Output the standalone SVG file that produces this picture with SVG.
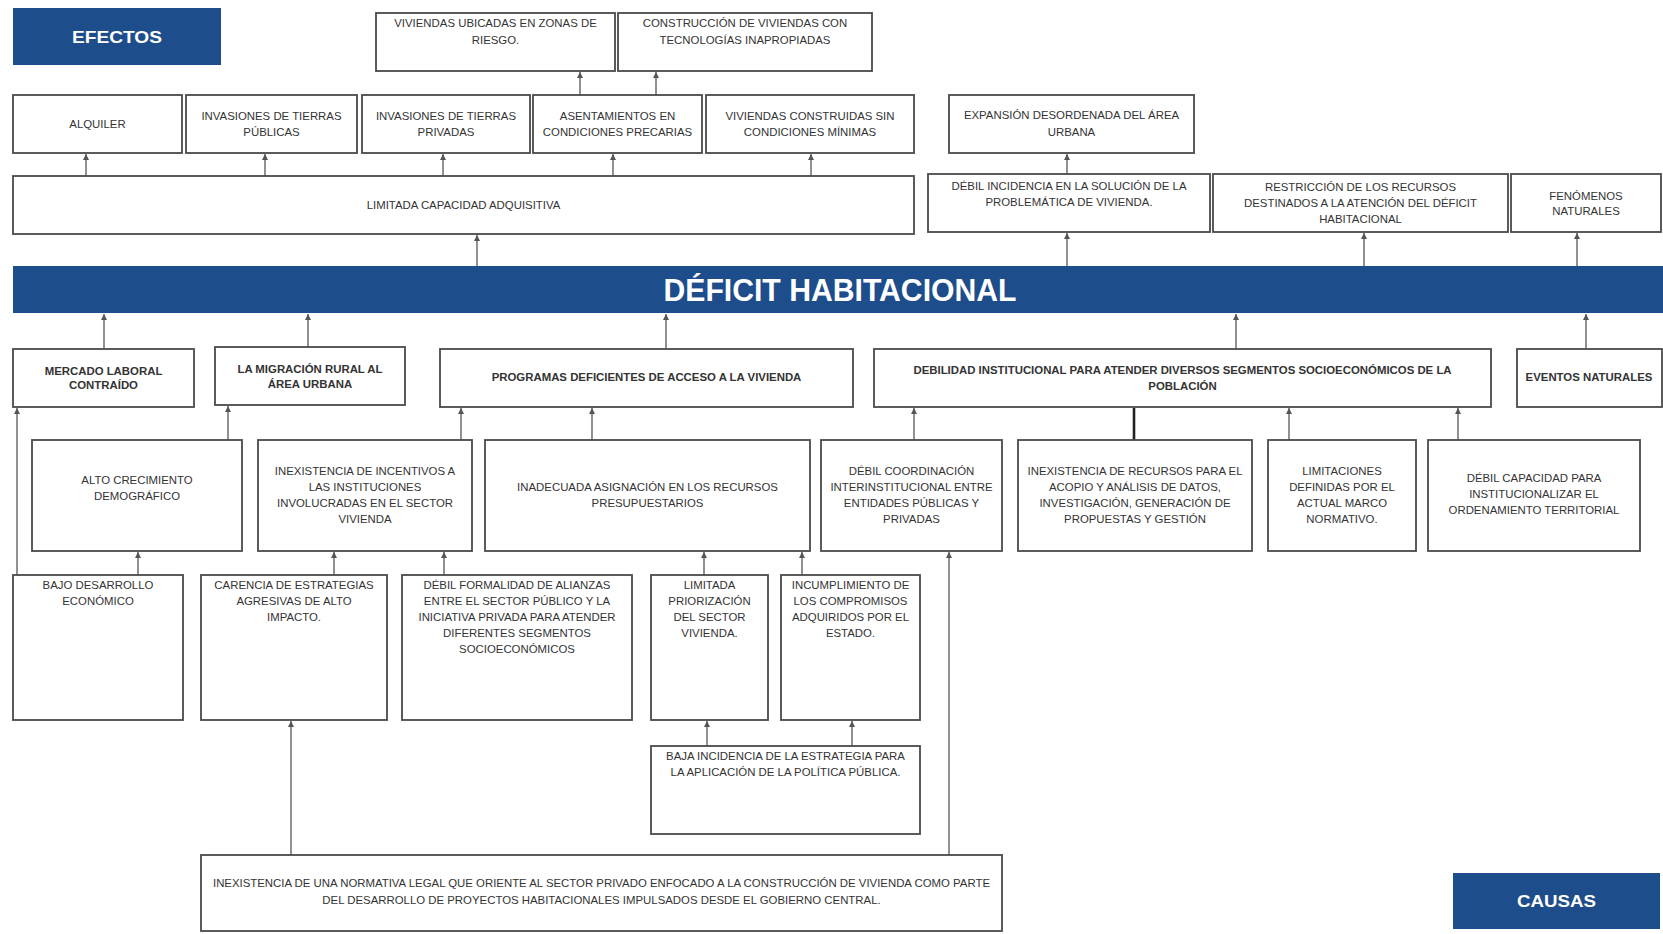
<svg xmlns="http://www.w3.org/2000/svg" width="1663" height="934" viewBox="0 0 1663 934">
<style>
.bg{fill:#ffffff}
.box{fill:#ffffff;stroke:#4a4a4a;stroke-width:1.8}
.hdr{fill:#1e4d8c}
.t{font-family:"Liberation Sans",Arial,sans-serif;font-size:11.4px;fill:#333333;text-anchor:middle}
.ht{font-family:"Liberation Sans",Arial,sans-serif;font-weight:bold;fill:#ffffff;text-anchor:middle}
.c{stroke:#555555;stroke-width:1.3;fill:none;marker-end:url(#a)}
.cb{stroke:#222222;stroke-width:2.6;fill:none}
</style>
<defs>
<marker id="a" markerWidth="7" markerHeight="7" refX="6" refY="3.5" orient="auto" markerUnits="userSpaceOnUse">
<path d="M0,0.5 L6,3.5 L0,6.5 z" fill="#555555"/>
</marker>
</defs>
<rect class="bg" x="0" y="0" width="1663" height="934"/>

<g id="connectors">
<line class="c" x1="86" y1="176" x2="86" y2="154"/>
<line class="c" x1="265" y1="176" x2="265" y2="154"/>
<line class="c" x1="443" y1="176" x2="443" y2="154"/>
<line class="c" x1="613" y1="176" x2="613" y2="154"/>
<line class="c" x1="811" y1="176" x2="811" y2="154"/>
<line class="c" x1="580" y1="95" x2="580" y2="72"/>
<line class="c" x1="656" y1="95" x2="656" y2="72"/>
<line class="c" x1="477" y1="266" x2="477" y2="235"/>
<line class="c" x1="1067" y1="266" x2="1067" y2="233"/>
<line class="c" x1="1067" y1="174" x2="1067" y2="154"/>
<line class="c" x1="1364" y1="266" x2="1364" y2="233"/>
<line class="c" x1="1577" y1="266" x2="1577" y2="233"/>
<line class="c" x1="104" y1="349" x2="104" y2="314"/>
<line class="c" x1="308" y1="347" x2="308" y2="314"/>
<line class="c" x1="666" y1="349" x2="666" y2="314"/>
<line class="c" x1="1236" y1="349" x2="1236" y2="314"/>
<line class="c" x1="1586" y1="349" x2="1586" y2="314"/>
<line class="c" x1="17" y1="575" x2="17" y2="408"/>
<line class="c" x1="228" y1="440" x2="228" y2="406"/>
<line class="c" x1="461" y1="440" x2="461" y2="408"/>
<line class="c" x1="592" y1="440" x2="592" y2="408"/>
<line class="c" x1="914" y1="440" x2="914" y2="408"/>
<line class="cb" x1="1134" y1="440" x2="1134" y2="408"/>
<line class="c" x1="1289" y1="440" x2="1289" y2="408"/>
<line class="c" x1="1458" y1="440" x2="1458" y2="408"/>
<line class="c" x1="138" y1="575" x2="138" y2="552"/>
<line class="c" x1="334" y1="575" x2="334" y2="552"/>
<line class="c" x1="444" y1="575" x2="444" y2="552"/>
<line class="c" x1="704" y1="575" x2="704" y2="552"/>
<line class="c" x1="802" y1="575" x2="802" y2="552"/>
<line class="c" x1="707" y1="746" x2="707" y2="721"/>
<line class="c" x1="852" y1="746" x2="852" y2="721"/>
<line class="c" x1="291" y1="855" x2="291" y2="721"/>
<line class="c" x1="949" y1="855" x2="949" y2="552"/>
</g>

<g id="efectos">
<rect class="hdr" x="13" y="8" width="208" height="57"/>
<text class="ht" x="117" y="43" font-size="17" textLength="90" lengthAdjust="spacingAndGlyphs">EFECTOS</text>
</g>

<g id="viviendas-riesgo">
<rect class="box" x="376" y="13" width="239" height="58"/>
<text class="t" x="495.5" y="27">VIVIENDAS UBICADAS EN ZONAS DE</text>
<text class="t" x="495.5" y="44">RIESGO.</text>
</g>
<g id="construccion">
<rect class="box" x="618" y="13" width="254" height="58"/>
<text class="t" x="745" y="27">CONSTRUCCIÓN DE VIVIENDAS CON</text>
<text class="t" x="745" y="44">TECNOLOGÍAS INAPROPIADAS</text>
</g>

<g id="alquiler">
<rect class="box" x="13" y="95" width="169" height="58"/>
<text class="t" x="97.5" y="128">ALQUILER</text>
</g>
<g id="invasiones-publicas">
<rect class="box" x="186" y="95" width="171" height="58"/>
<text class="t" x="271.5" y="120">INVASIONES DE TIERRAS</text>
<text class="t" x="271.5" y="136">PÚBLICAS</text>
</g>
<g id="invasiones-privadas">
<rect class="box" x="362" y="95" width="168" height="58"/>
<text class="t" x="446" y="120">INVASIONES DE TIERRAS</text>
<text class="t" x="446" y="136">PRIVADAS</text>
</g>
<g id="asentamientos">
<rect class="box" x="533" y="95" width="169" height="58"/>
<text class="t" x="617.5" y="120">ASENTAMIENTOS EN</text>
<text class="t" x="617.5" y="136">CONDICIONES PRECARIAS</text>
</g>
<g id="viviendas-construidas">
<rect class="box" x="706" y="95" width="208" height="58"/>
<text class="t" x="810" y="120">VIVIENDAS CONSTRUIDAS SIN</text>
<text class="t" x="810" y="136">CONDICIONES MÍNIMAS</text>
</g>

<g id="limitada-capacidad">
<rect class="box" x="13" y="176" width="901" height="58"/>
<text class="t" x="463.5" y="209">LIMITADA CAPACIDAD ADQUISITIVA</text>
</g>

<g id="expansion">
<rect class="box" x="949" y="95" width="245" height="58"/>
<text class="t" x="1071.5" y="119">EXPANSIÓN DESORDENADA DEL ÁREA</text>
<text class="t" x="1071.5" y="136">URBANA</text>
</g>
<g id="debil-incidencia">
<rect class="box" x="928" y="174" width="282" height="58"/>
<text class="t" x="1069" y="190">DÉBIL INCIDENCIA EN LA SOLUCIÓN DE LA</text>
<text class="t" x="1069" y="206">PROBLEMÁTICA DE VIVIENDA.</text>
</g>
<g id="restriccion-recursos">
<rect class="box" x="1213" y="174" width="295" height="58"/>
<text class="t" x="1360.5" y="191">RESTRICCIÓN DE LOS RECURSOS</text>
<text class="t" x="1360.5" y="207">DESTINADOS A LA ATENCIÓN DEL DÉFICIT</text>
<text class="t" x="1360.5" y="223">HABITACIONAL</text>
</g>
<g id="fenomenos">
<rect class="box" x="1511" y="174" width="150" height="58"/>
<text class="t" x="1586" y="200">FENÓMENOS</text>
<text class="t" x="1586" y="215">NATURALES</text>
</g>

<g id="deficit">
<rect class="hdr" x="13" y="266" width="1650" height="47"/>
<text class="ht" x="840" y="301" font-size="31" textLength="353" lengthAdjust="spacingAndGlyphs">DÉFICIT HABITACIONAL</text>
</g>

<g id="mercado-laboral">
<rect class="box" x="13" y="349" width="181" height="58"/>
<text class="t" x="103.5" y="375" font-weight="bold">MERCADO LABORAL</text>
<text class="t" x="103.5" y="389" font-weight="bold">CONTRAÍDO</text>
</g>
<g id="migracion">
<rect class="box" x="215" y="347" width="190" height="58"/>
<text class="t" x="310" y="373" font-weight="bold">LA MIGRACIÓN RURAL AL</text>
<text class="t" x="310" y="388" font-weight="bold">ÁREA URBANA</text>
</g>
<g id="programas">
<rect class="box" x="440" y="349" width="413" height="58"/>
<text class="t" x="646.5" y="381" font-weight="bold">PROGRAMAS DEFICIENTES DE ACCESO A LA VIVIENDA</text>
</g>
<g id="debilidad">
<rect class="box" x="874" y="349" width="617" height="58"/>
<text class="t" x="1182.5" y="374" font-weight="bold">DEBILIDAD INSTITUCIONAL PARA ATENDER DIVERSOS SEGMENTOS SOCIOECONÓMICOS DE LA</text>
<text class="t" x="1182.5" y="390" font-weight="bold">POBLACIÓN</text>
</g>
<g id="eventos">
<rect class="box" x="1517" y="349" width="145" height="58"/>
<text class="t" x="1589" y="381" font-weight="bold">EVENTOS NATURALES</text>
</g>

<g id="alto-crecimiento">
<rect class="box" x="32" y="440" width="210" height="111"/>
<text class="t" x="137" y="484">ALTO CRECIMIENTO</text>
<text class="t" x="137" y="500">DEMOGRÁFICO</text>
</g>
<g id="inexistencia-incentivos">
<rect class="box" x="258" y="440" width="214" height="111"/>
<text class="t" x="365" y="475">INEXISTENCIA DE INCENTIVOS A</text>
<text class="t" x="365" y="491">LAS INSTITUCIONES</text>
<text class="t" x="365" y="507">INVOLUCRADAS EN EL SECTOR</text>
<text class="t" x="365" y="523">VIVIENDA</text>
</g>
<g id="inadecuada-asignacion">
<rect class="box" x="485" y="440" width="325" height="111"/>
<text class="t" x="647.5" y="491">INADECUADA ASIGNACIÓN EN LOS RECURSOS</text>
<text class="t" x="647.5" y="507">PRESUPUESTARIOS</text>
</g>
<g id="debil-coordinacion">
<rect class="box" x="821" y="440" width="181" height="111"/>
<text class="t" x="911.5" y="475">DÉBIL COORDINACIÓN</text>
<text class="t" x="911.5" y="491">INTERINSTITUCIONAL ENTRE</text>
<text class="t" x="911.5" y="507">ENTIDADES PÚBLICAS Y</text>
<text class="t" x="911.5" y="523">PRIVADAS</text>
</g>
<g id="inexistencia-recursos">
<rect class="box" x="1018" y="440" width="234" height="111"/>
<text class="t" x="1135" y="475">INEXISTENCIA DE RECURSOS PARA EL</text>
<text class="t" x="1135" y="491">ACOPIO Y ANÁLISIS DE DATOS,</text>
<text class="t" x="1135" y="507">INVESTIGACIÓN, GENERACIÓN DE</text>
<text class="t" x="1135" y="523">PROPUESTAS Y GESTIÓN</text>
</g>
<g id="limitaciones">
<rect class="box" x="1268" y="440" width="148" height="111"/>
<text class="t" x="1342" y="475">LIMITACIONES</text>
<text class="t" x="1342" y="491">DEFINIDAS POR EL</text>
<text class="t" x="1342" y="507">ACTUAL MARCO</text>
<text class="t" x="1342" y="523">NORMATIVO.</text>
</g>
<g id="debil-capacidad">
<rect class="box" x="1428" y="440" width="212" height="111"/>
<text class="t" x="1534" y="482">DÉBIL CAPACIDAD PARA</text>
<text class="t" x="1534" y="498">INSTITUCIONALIZAR EL</text>
<text class="t" x="1534" y="514">ORDENAMIENTO TERRITORIAL</text>
</g>

<g id="bajo-desarrollo">
<rect class="box" x="13" y="575" width="170" height="145"/>
<text class="t" x="98" y="589">BAJO DESARROLLO</text>
<text class="t" x="98" y="605">ECONÓMICO</text>
</g>
<g id="carencia-estrategias">
<rect class="box" x="201" y="575" width="186" height="145"/>
<text class="t" x="294" y="589">CARENCIA DE ESTRATEGIAS</text>
<text class="t" x="294" y="605">AGRESIVAS DE ALTO</text>
<text class="t" x="294" y="621">IMPACTO.</text>
</g>
<g id="debil-formalidad">
<rect class="box" x="402" y="575" width="230" height="145"/>
<text class="t" x="517" y="589">DÉBIL FORMALIDAD DE ALIANZAS</text>
<text class="t" x="517" y="605">ENTRE EL SECTOR PÚBLICO Y LA</text>
<text class="t" x="517" y="621">INICIATIVA PRIVADA PARA ATENDER</text>
<text class="t" x="517" y="637">DIFERENTES SEGMENTOS</text>
<text class="t" x="517" y="653">SOCIOECONÓMICOS</text>
</g>
<g id="limitada-priorizacion">
<rect class="box" x="651" y="575" width="117" height="145"/>
<text class="t" x="709.5" y="589">LIMITADA</text>
<text class="t" x="709.5" y="605">PRIORIZACIÓN</text>
<text class="t" x="709.5" y="621">DEL SECTOR</text>
<text class="t" x="709.5" y="637">VIVIENDA.</text>
</g>
<g id="incumplimiento">
<rect class="box" x="781" y="575" width="139" height="145"/>
<text class="t" x="850.5" y="589">INCUMPLIMIENTO DE</text>
<text class="t" x="850.5" y="605">LOS COMPROMISOS</text>
<text class="t" x="850.5" y="621">ADQUIRIDOS POR EL</text>
<text class="t" x="850.5" y="637">ESTADO.</text>
</g>

<g id="baja-incidencia">
<rect class="box" x="651" y="746" width="269" height="88"/>
<text class="t" x="785.5" y="760">BAJA INCIDENCIA DE LA ESTRATEGIA PARA</text>
<text class="t" x="785.5" y="776">LA APLICACIÓN DE LA POLÍTICA PÚBLICA.</text>
</g>

<g id="inexistencia-normativa">
<rect class="box" x="201" y="855" width="801" height="76"/>
<text class="t" x="601.5" y="887">INEXISTENCIA DE UNA NORMATIVA LEGAL QUE ORIENTE AL SECTOR PRIVADO ENFOCADO A LA CONSTRUCCIÓN DE VIVIENDA COMO PARTE</text>
<text class="t" x="601.5" y="904">DEL DESARROLLO DE PROYECTOS HABITACIONALES IMPULSADOS DESDE EL GOBIERNO CENTRAL.</text>
</g>

<g id="causas">
<rect class="hdr" x="1453" y="873" width="207" height="56"/>
<text class="ht" x="1556.5" y="907" font-size="17" textLength="79" lengthAdjust="spacingAndGlyphs">CAUSAS</text>
</g>
</svg>
